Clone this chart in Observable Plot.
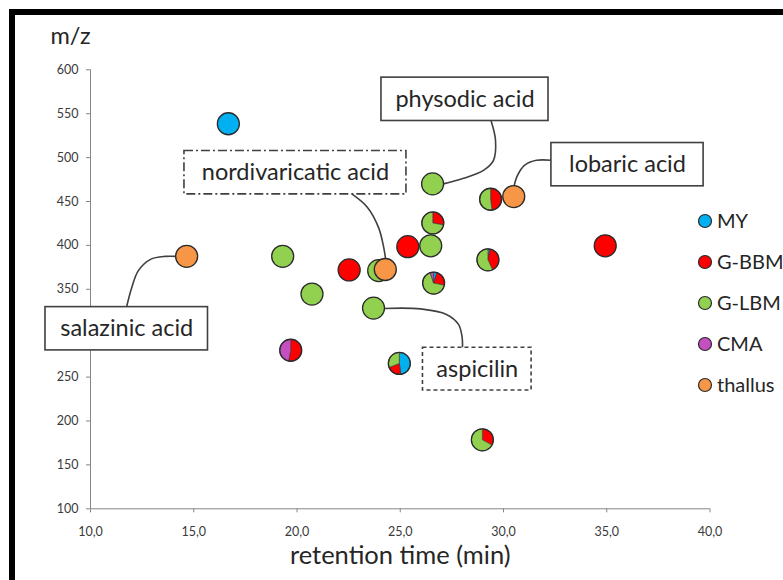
<!DOCTYPE html>
<html><head><meta charset="utf-8">
<script src="https://cdn.jsdelivr.net/npm/d3@7"></script>
<script src="https://cdn.jsdelivr.net/npm/@observablehq/plot@0.6"></script>
<style>
html,body{margin:0;padding:0;background:#fff;}
#wrap{position:relative;width:783px;height:580px;overflow:hidden;font-family:Lato,sans-serif;}
#wrap svg{position:absolute;left:0;top:0;}
#frame{position:absolute;left:9px;top:9px;right:-20px;bottom:-20px;border-top:6px solid #000;border-left:6px solid #000;pointer-events:none;}
</style></head><body><div id="wrap"></div>
<script>
// groups (series) and their colours
const groups = ["MY","G-BBM","G-LBM","CMA","thallus"];
const groupColors = ["#00B0F0","#FF0000","#92D050","#C44FC0","#F79646"];

// compounds: retention time (min), m/z, and share (%) of each group
const retention = [16.7,14.68,19.33,20.75,22.55,23.98,24.3,23.73,25.39,26.5,26.6,26.59,26.64,29.4,30.52,34.95,29.27,19.72,24.98,29.0];
const mz        = [538,387,387,344,371.5,370.7,372,328,398,399,425,469.5,356.5,452,455,399,383,280,265,178];
const shareMY      = [100,0,0,0,0,0,0,0,0,0,0,0,5,0,0,0,3,0,48,0];
const shareGBBM    = [0,0,0,0,100,0,0,0,100,0,28,0,23,48,0,100,40,53,21,33];
const shareGLBM    = [0,0,100,100,0,100,0,100,0,100,72,100,67,52,0,0,57,0,31,67];
const shareCMA     = [0,0,0,0,0,0,0,0,0,0,0,0,5,0,0,0,0,47,0,0];
const shareThallus = [0,100,0,0,0,0,100,0,0,0,0,0,0,0,100,0,0,0,0,0];

// axes
const xTicks = [10,15,20,25,30,35,40];
const xTickLabels = ["10,0","15,0","20,0","25,0","30,0","35,0","40,0"];
const yTicks = [100,150,200,250,300,350,400,450,500,550,600];
// 300 is hidden behind the "salazinic acid" box in the original
const yTickLabels = ["100","150","200","250","","350","400","450","500","550","600"];

// callouts (in data units)
const calloutNames = ["physodic acid","lobaric acid","nordivaricatic acid","salazinic acid","aspicilin"];
const calloutDash  = ["none","none","9,3,2,3","none","4,3"];
const boxT1 = [24.09,32.32,14.55,7.82,26.10];
const boxT2 = [32.18,39.69,25.30,15.69,31.36];
const boxV1 = [541.7,467.3,458.1,280.4,234.8];
const boxV2 = [591.1,516.6,507.5,329.7,283.5];
const leaderT = [
  [29.404,29.613,29.516,29.031,28.063,27.094],
  [32.324,31.598,31.017,30.678,30.508],
  [22.688,23.414,23.947,24.189,24.286],
  [11.743,11.985,12.324,12.906,13.632,14.165],
  [24.189,25.981,27.240,27.821,27.990,28.015]
];
const leaderV = [
  [541.3,519.7,496.9,485.5,476.4,470.1],
  [496.9,496.9,491.2,479.8,467.3],
  [458.1,443.3,420.5,398.9,385.2],
  [329.4,351.0,371.5,384.1,387.5,387.5],
  [328.2,327.7,321.4,310.0,296.3,283.8]
];

// ---- build tables ----
const points = retention.map((t, i) => {
  const shares = [shareMY[i], shareGBBM[i], shareGLBM[i], shareCMA[i], shareThallus[i]];
  const k = shares.findIndex(s => s === 100);
  return {t, mz: mz[i], shares, group: k >= 0 ? groups[k] : null, order: i};
});
const boxes = calloutNames.map((name, i) => ({name, dash: calloutDash[i], t1: boxT1[i], t2: boxT2[i], v1: boxV1[i], v2: boxV2[i]}));
const leaders = calloutNames.flatMap((name, i) => leaderT[i].map((t, j) => ({name, t, v: leaderV[i][j]})));

const R = 11;
const outline = "#2b2b2b";

// markers: pies and plain circles drawn in data order
function markerMark(index, scales, values, dimensions, context) {
  const g = d3.create("svg:g");
  const arc = d3.arc().innerRadius(0).outerRadius(R);
  const pie = d3.pie().sort(null).value(d => d.v);
  for (const p of points) {
    const cx = scales.x(p.t), cy = scales.y(p.mz);
    const gg = g.append("g").attr("transform", `translate(${cx},${cy})`);
    if (p.group) {
      gg.append("circle").attr("r", R).attr("fill", scales.color(p.group))
        .attr("stroke", outline).attr("stroke-width", 1.3);
    } else {
      const parts = p.shares.map((v, k) => ({v, k})).filter(d => d.v > 0);
      gg.selectAll("path").data(pie(parts)).join("path")
        .attr("d", arc).attr("fill", d => scales.color(groups[d.data.k]))
        .attr("stroke", "#333").attr("stroke-width", 0.6);
      gg.append("circle").attr("r", R).attr("fill", "none")
        .attr("stroke", outline).attr("stroke-width", 1.3);
    }
  }
  return g.node();
}

function legendMark(index, scales, values, dimensions, context) {
  const g = d3.create("svg:g");
  const x0 = dimensions.width - 78, y0 = 221, step = 41;
  groups.forEach((name, i) => {
    g.append("circle").attr("cx", x0).attr("cy", y0 + i * step).attr("r", 6.5)
      .attr("fill", scales.color(name)).attr("stroke", outline).attr("stroke-width", 1.2);
    g.append("text").attr("x", x0 + 12).attr("y", y0 + i * step).attr("dy", "0.36em")
      .attr("text-anchor", "start").attr("font-size", 20).attr("fill", "#262626").text(name);
  });
  return g.node();
}

const plot = Plot.plot({
  width: 783, height: 580,
  marginLeft: 90, marginRight: 73.5, marginTop: 69.3, marginBottom: 71.7,
  style: {fontFamily: "Lato, sans-serif", background: "transparent"},
  x: {domain: [10, 40]},
  y: {domain: [100, 600]},
  color: {domain: groups, range: groupColors},
  marks: [
    Plot.ruleX([10], {y1: 100, y2: 600, stroke: "#868686", strokeWidth: 1}),
    Plot.ruleY([100], {x1: 10, x2: 40, stroke: "#868686", strokeWidth: 1}),
    Plot.axisY({ticks: yTicks, tickFormat: d => yTickLabels[yTicks.indexOf(d)], tickSize: 4, tickPadding: 8, fontSize: 12.5, stroke: "#868686", fill: "#3a3a3a", label: null}),
    Plot.axisX({ticks: xTicks, tickFormat: d => xTickLabels[xTicks.indexOf(d)], tickSize: 4, tickPadding: 14, fontSize: 12.5, stroke: "#868686", fill: "#3a3a3a", label: null}),
    Plot.text(["m/z"], {frameAnchor: "top-left", dx: -40, dy: -33, textAnchor: "start", lineAnchor: "middle", fontSize: 23.5, fill: "#262626"}),
    Plot.text(["retention time (min)"], {frameAnchor: "bottom", dy: 47, lineAnchor: "middle", fontSize: 25.5, fill: "#262626"}),
    Plot.line(leaders, {x: "t", y: "v", z: "name", curve: "catmull-rom", stroke: "#404040", strokeWidth: 1.6}),
    Plot.rect(boxes.filter(b => b.dash === "none"), {x1: "t1", x2: "t2", y1: "v1", y2: "v2", fill: "white", stroke: "#404040", strokeWidth: 1.6}),
    Plot.rect(boxes.filter(b => b.dash === "9,3,2,3"), {x1: "t1", x2: "t2", y1: "v1", y2: "v2", fill: "white", stroke: "#404040", strokeWidth: 1.6, strokeDasharray: "9,3,2,3"}),
    Plot.rect(boxes.filter(b => b.dash === "4,3"), {x1: "t1", x2: "t2", y1: "v1", y2: "v2", fill: "white", stroke: "#404040", strokeWidth: 1.6, strokeDasharray: "4,3"}),
    Plot.text(boxes, {x: d => (d.t1 + d.t2) / 2, y: d => (d.v1 + d.v2) / 2, text: "name", lineAnchor: "middle", fontSize: 23.5, fill: "#262626"}),
    Plot.dot(points.filter(p => p.group), {x: "t", y: "mz", fill: "group", r: 0}),
    markerMark,
    legendMark
  ]
});
const wrap = document.getElementById("wrap");
wrap.appendChild(plot);
const fr = document.createElement("div"); fr.id = "frame"; wrap.appendChild(fr);
</script></body></html>
